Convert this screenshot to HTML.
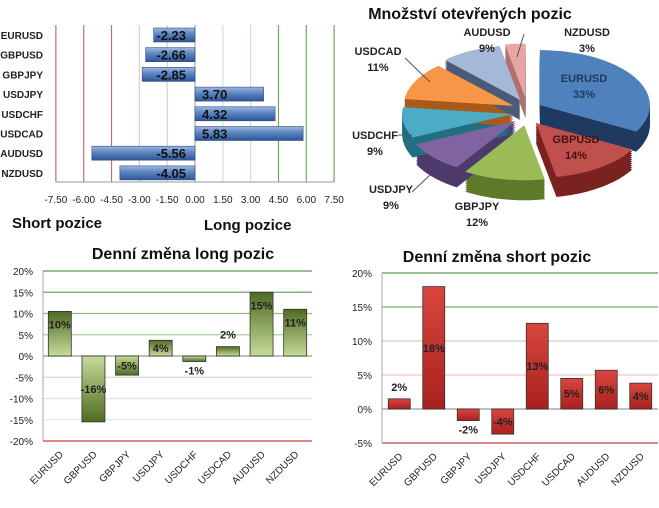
<!DOCTYPE html>
<html><head><meta charset="utf-8"><style>
html,body{margin:0;padding:0;background:#fff;}
svg{display:block;font-family:"Liberation Sans",sans-serif;}
</style></head><body>
<svg id="s" width="659" height="508" viewBox="0 0 659 508">
<defs>
<linearGradient id="gb" x1="0" y1="0" x2="0" y2="1"><stop offset="0" stop-color="#9db8e0"/><stop offset="0.45" stop-color="#5a84c0"/><stop offset="1" stop-color="#2f5597"/></linearGradient>
<linearGradient id="gg" x1="0" y1="0" x2="0" y2="1"><stop offset="0" stop-color="#4f6b22"/><stop offset="1" stop-color="#c6dc9a"/></linearGradient>
<linearGradient id="ggn" x1="0" y1="0" x2="0" y2="1"><stop offset="0" stop-color="#c6dc9a"/><stop offset="1" stop-color="#4f6b22"/></linearGradient>
<linearGradient id="gr" x1="0" y1="0" x2="0" y2="1"><stop offset="0" stop-color="#d9473f"/><stop offset="1" stop-color="#a8201d"/></linearGradient>
</defs>
<g id="c1"></g>
<g id="c2"></g>
<g id="c3"></g>
<g id="c4"></g>
</svg>
<script>
const NS="http://www.w3.org/2000/svg";
function mk(p,t,a,txt){const e=document.createElementNS(NS,t);for(const k in a)e.setAttribute(k,a[k]);if(txt!==undefined)e.textContent=txt;p.appendChild(e);return e;}

// ===== Chart 1 data =====
const posCats=["EURUSD","GBPUSD","GBPJPY","USDJPY","USDCHF","USDCAD","AUDUSD","NZDUSD"];
const posVals=[-2.23,-2.66,-2.85,3.70,4.32,5.83,-5.56,-4.05];
const posTicks=[-7.5,-6,-4.5,-3,-1.5,0,1.5,3,4.5,6,7.5];
// ===== Pie data =====
const pieCats=["EURUSD","GBPUSD","GBPJPY","USDJPY","USDCHF","USDCAD","AUDUSD","NZDUSD"];
const pieVals=[33,14,12,9,9,11,9,3];
// ===== Long change =====
const chgCats=["EURUSD","GBPUSD","GBPJPY","USDJPY","USDCHF","USDCAD","AUDUSD","NZDUSD"];
const longVals=[10.5,-15.5,-4.5,3.7,-1.3,2.2,15,11];
const longLabels=["10%","-16%","-5%","4%","-1%","2%","15%","11%"];
const longTicks=[20,15,10,5,0,-5,-10,-15,-20];
// ===== Short change =====
const shortVals=[1.5,18,-1.7,-3.7,12.6,4.5,5.7,3.8];
const shortLabels=["2%","18%","-2%","-4%","13%","5%","6%","4%"];
const shortTicks=[20,15,10,5,0,-5];

// ---- Chart 1 ----
(function(){
const g=document.getElementById('c1');
const x=v=>195+v*18.55, y0=35, dy=19.7, top=25, bot=182;
posTicks.forEach(t=>{
  let col=t<0?(t<=-4.5?'#c07070':'#e8c8c8'):(t>=4.5?'#70a860':(t>0?'#cfe3c8':'#aaa'));
  const l=mk(g,'line',{x1:x(t),x2:x(t),y1:top,y2:bot,stroke:col,'stroke-width':1.2});
  
  
  const tx=mk(g,'text',{x:x(t),y:203,'font-size':10,'text-anchor':'middle',fill:'#222'},t.toFixed(2));
  
  
});
mk(g,'line',{x1:x(-7.5),x2:x(7.5),y1:bot,y2:bot,stroke:'#999'});
posCats.forEach((c,i)=>{
  const cy=y0+i*dy,v=posVals[i];
  const cl=mk(g,'text',{x:43,y:cy+4,'font-size':10,'font-weight':'bold','text-anchor':'end',fill:'#222'},c);
  
  
  const r=mk(g,'rect',{x:Math.min(x(0),x(v)),y:cy-7,width:Math.abs(x(v)-x(0)),height:14,fill:'url(#gb)',stroke:'#2f4f80','stroke-width':0.6});
  
  
  const lb=mk(g,'text',{x:v<0?x(0)-9:x(0)+7,y:cy+5,'font-size':13,'font-weight':'bold','text-anchor':v<0?'end':'start',fill:'#111'},v.toFixed(2));
  
  
});
const a=mk(g,'text',{x:12,y:228,'font-size':15,'font-weight':'bold',fill:'#111'},'Short pozice');


const b=mk(g,'text',{x:204,y:230,'font-size':15,'font-weight':'bold',fill:'#111'},'Long pozice');


})();

// ---- Pie ----
(function(){
const g=document.getElementById('c2');
const t=mk(g,'text',{x:470,y:19,'font-size':16,'font-weight':'bold','text-anchor':'middle',fill:'#111'},'Množství otevřených pozic');


const cx=527,cy=112,rx=110,ry=55,depth=20,ex=15;
const top=['#4f81bd','#c0504d','#9bbb59','#8064a2','#4bacc6','#f79646','#a5b8d8','#e6a6a6'];
const side=['#1f3a60','#7a2220','#5d7a2a','#4d3a6a','#236e80','#a85a1c','#4a5a78','#b07070'];
const total=pieVals.reduce((a,b)=>a+b,0);
let ang=-Math.PI/2;const sl=[];
pieVals.forEach((v,i)=>{const a0=ang,a1=ang+v/total*2*Math.PI;ang=a1;sl.push([a0,a1]);});
function path(a0,a1,ox,oy){
  const pts=[];const n=30;
  for(let k=0;k<=n;k++){const a=a0+(a1-a0)*k/n;pts.push((ox+rx*Math.cos(a)).toFixed(1)+','+(oy+ry*Math.sin(a)).toFixed(1));}
  return 'M'+ox+','+oy+' L'+pts.join(' L')+' Z';
}
sl.forEach((s,i)=>{
  const m=(s[0]+s[1])/2,ox=cx+ex*Math.cos(m),oy=cy+ex*0.9*Math.sin(m);
  for(let d=depth;d>0;d-=2){
    const p=mk(g,'path',{d:path(s[0],s[1],ox,oy+d),fill:side[i]});
    
    
  }
});
sl.forEach((s,i)=>{
  const m=(s[0]+s[1])/2,ox=cx+ex*Math.cos(m),oy=cy+ex*0.9*Math.sin(m);
  const p=mk(g,'path',{d:path(s[0],s[1],ox,oy),fill:top[i]});
  
  
});
const lp=[[584,82,'#1f3a60'],[576,143,'#4a1010'],[477,210,'#222'],[391,193,'#222'],[375,139,'#222'],[378,55,'#222'],[487,36,'#222'],[587,36,'#222']];
pieCats.forEach((c,i)=>{
  const p=lp[i];
  const a=mk(g,'text',{x:p[0],y:p[1],'font-size':11,'font-weight':'bold','text-anchor':'middle',fill:p[2]},c);
  
  
  const b=mk(g,'text',{x:p[0],y:p[1]+16,'font-size':11,'font-weight':'bold','text-anchor':'middle',fill:p[2]},pieVals[i]+'%');
  
  
});
[[405,58,430,82],[398,135,412,135],[412,192,430,175],[524,34,517,57]].forEach(l=>{mk(g,'line',{x1:l[0],y1:l[1],x2:l[2],y2:l[3],stroke:'#555'});});
})();

// ---- Column charts ----
function col(gid,title,tx,ty,vals,labels,ticks,x0,x1,y0v,scale,fillP,fillN,gridCols,barW){
const g=document.getElementById(gid);
const y=v=>y0v-v*scale, bw=(x1-x0)/vals.length;
ticks.forEach((t,i)=>{
  const l=mk(g,'line',{x1:x0,x2:x1,y1:y(t),y2:y(t),stroke:gridCols[i],'stroke-width':1.2});
  
  
  const a=mk(g,'text',{x:x0-10,y:y(t)+4,'font-size':10,'text-anchor':'end',fill:'#222'},t+'%');
  
  
});
mk(g,'line',{x1:x0,x2:x0,y1:y(ticks[0]),y2:y(ticks[ticks.length-1]),stroke:'#aaa'});
const tt=mk(g,'text',{x:tx,y:ty,'font-size':16,'font-weight':'bold','text-anchor':'middle',fill:'#111'},title);


vals.forEach((v,i)=>{
  const cx=x0+bw*(i+0.5);
  const r=mk(g,'rect',{x:cx-barW/2,y:Math.min(y(0),y(v)),width:barW,height:Math.abs(y(v)-y(0)),fill:v>=0?fillP:fillN,stroke:'#333','stroke-width':0.8});
  
  
  let ly;
  if(Math.abs(v)<3) ly=v>=0?y(v)-8:y(v)+13; else ly=(y(v)+y(0))/2+4;
  if(gid==='c3'&&v>8) ly=y(v)+17;
  const lb=mk(g,'text',{x:cx,y:ly,'font-size':11,'font-weight':'bold','text-anchor':'middle',fill:'#222'},labels[i]);
  
  
  const c=mk(g,'text',{x:cx+4,y:y(ticks[ticks.length-1])+14,'font-size':10,'text-anchor':'end',fill:'#222',transform:'rotate(-45 '+(cx+4)+' '+(y(ticks[ticks.length-1])+14)+')'},chgCats[i]);
  
  
});
}
col('c3','Denní změna long pozic',183,259,longVals,longLabels,longTicks,43,312,356,4.25,'url(#gg)','url(#ggn)',
 ['#5a9a50','#6aa860','#8cc080','#a8d0a0','#999','#cfe0c8','#dde8d8','#e4ece0','#c04040'],23);
col('c4','Denní změna short pozic',497,262,shortVals,shortLabels,shortTicks,382,658,409,6.8,'url(#gr)','url(#gr)',
 ['#5a9a50','#7ab070','#bcdcb4','#f0c8c8','#999','#c04040'],22);
</script>
</body></html>
